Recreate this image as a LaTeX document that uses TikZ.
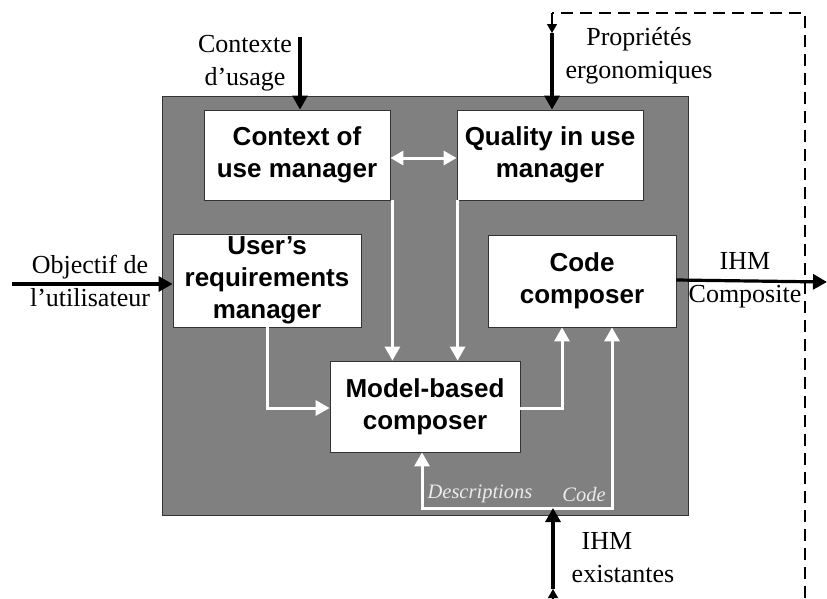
\documentclass[tikz,border=0pt]{standalone}
\usepackage{fontspec}
\setmainfont{Liberation Serif}
\newfontfamily\arialfont{Liberation Sans}
\usetikzlibrary{arrows.meta,calc}
\definecolor{panelgray}{HTML}{808080}
\definecolor{edgegray}{HTML}{333333}
\definecolor{labelwhite}{HTML}{EBEBEB}
\tikzset{
  panel/.style={draw=edgegray, line width=1pt, fill=panelgray},
  box/.style={draw=edgegray, line width=0.8pt, fill=white, align=center,
    font=\arialfont\bfseries\fontsize{26}{32}\selectfont, inner sep=0pt},
  lab/.style={align=center, font=\fontsize{26}{33}\selectfont, inner sep=0pt},
  ilab/.style={font=\itshape\fontsize{20.5}{24}\selectfont, text=labelwhite, inner sep=0pt},
  warrow/.style={draw=white, line width=3pt, -{Triangle[length=14pt,width=15pt]}},
  wdarrow/.style={draw=white, line width=3pt, {Triangle[length=13pt,width=14pt]}-{Triangle[length=13pt,width=14pt]}},
  barrow/.style={draw=black, line width=3.2pt, -{Triangle[length=14pt,width=15pt]}},
  smalltip/.style={draw=black, line width=1.2pt, -{Triangle[length=9pt,width=10pt]}},
  fback/.style={draw=black, line width=1.5pt, dash pattern=on 12pt off 7pt},
}
\begin{document}
\begin{tikzpicture}[x=1pt,y=-1pt]
\useasboundingbox (0,0) rectangle (827,598);
% main panel
\node[panel, minimum width=526pt, minimum height=419pt, inner sep=0pt] (panel) at (425,305.5) {};
% boxes
\node[box, minimum width=186pt, minimum height=90pt] (ctx) at (297,155) {Context of\\use manager};
\node[box, minimum width=186pt, minimum height=90pt] (qual) at (550,155) {Quality in use\\manager};
\node[box, minimum width=188pt, minimum height=93pt] (user) at (267,280.5) {User’s\\requirements\\manager};
\node[box, minimum width=188pt, minimum height=92pt] (code) at (582,281) {Code\\composer};
\node[box, minimum width=190pt, minimum height=91pt] (model) at (425,406.5) {Model-based\\composer};
% inner white connectors
\draw[wdarrow] ([yshift=-3pt]ctx.east) -- ([yshift=-3pt]qual.west);
\draw[warrow] ([xshift=2pt]ctx.south east) -- ([xshift=2pt]ctx.south east |- model.north);
\draw[warrow] ([xshift=1pt]qual.south west) -- ([xshift=1pt]qual.south west |- model.north);
\draw[warrow] (user.south) |- ([yshift=-1.5pt]model.west);
\draw[warrow] ([yshift=-1.5pt]model.east) -| ([xshift=-20pt]code.south);
\coordinate (jn) at (553,508);
\draw[warrow] (jn) -| ([xshift=-3pt]model.south);
\draw[warrow] (jn) -| ([xshift=30pt]code.south);
\node[ilab] (desc) at (480,494) {Descriptions};
\node[ilab] (codelab) at (584,494) {Code};
% outside labels
\node[lab] (lctx) at (245,63) {Contexte\\d’usage};
\node[lab] (lprop) at (639,56) {Propriétés\\ergonomiques};
\node[lab] (lobj) at (90,281) {Objectif de\\l’utilisateur};
\node[lab] (lihm) at (745,280) {IHM\\Composite};
\node[lab] (lexist) at (623,558) {IHM\hspace*{32pt}\\existantes};
% black arrows
\coordinate (c0) at (300,37);
\draw[barrow] (c0) -- (c0 |- ctx.north);
\coordinate (p0) at (552,13);
\coordinate (p1) at (552,33);
\draw[smalltip] (p0) -- (p1);
\draw[barrow] (p1) -- (p1 |- qual.north);
\coordinate (o0) at (12,284);
\draw[barrow] (o0) -- (o0 -| user.west);
\coordinate (iout) at (827,282);
\draw[barrow] ([yshift=1pt]code.east) -- (iout);
\coordinate (e0) at (553,600);
\coordinate (e1) at (553,589);
\draw[smalltip] (e0) -- (e1);
\draw[barrow] (e1) -- (jn);
% feedback dashed loop
\coordinate (fr0) at (805,598);
\coordinate (fr1) at (805,13);
\draw[fback] (fr0) -- (fr1) -- (p0);
\end{tikzpicture}
\end{document}
